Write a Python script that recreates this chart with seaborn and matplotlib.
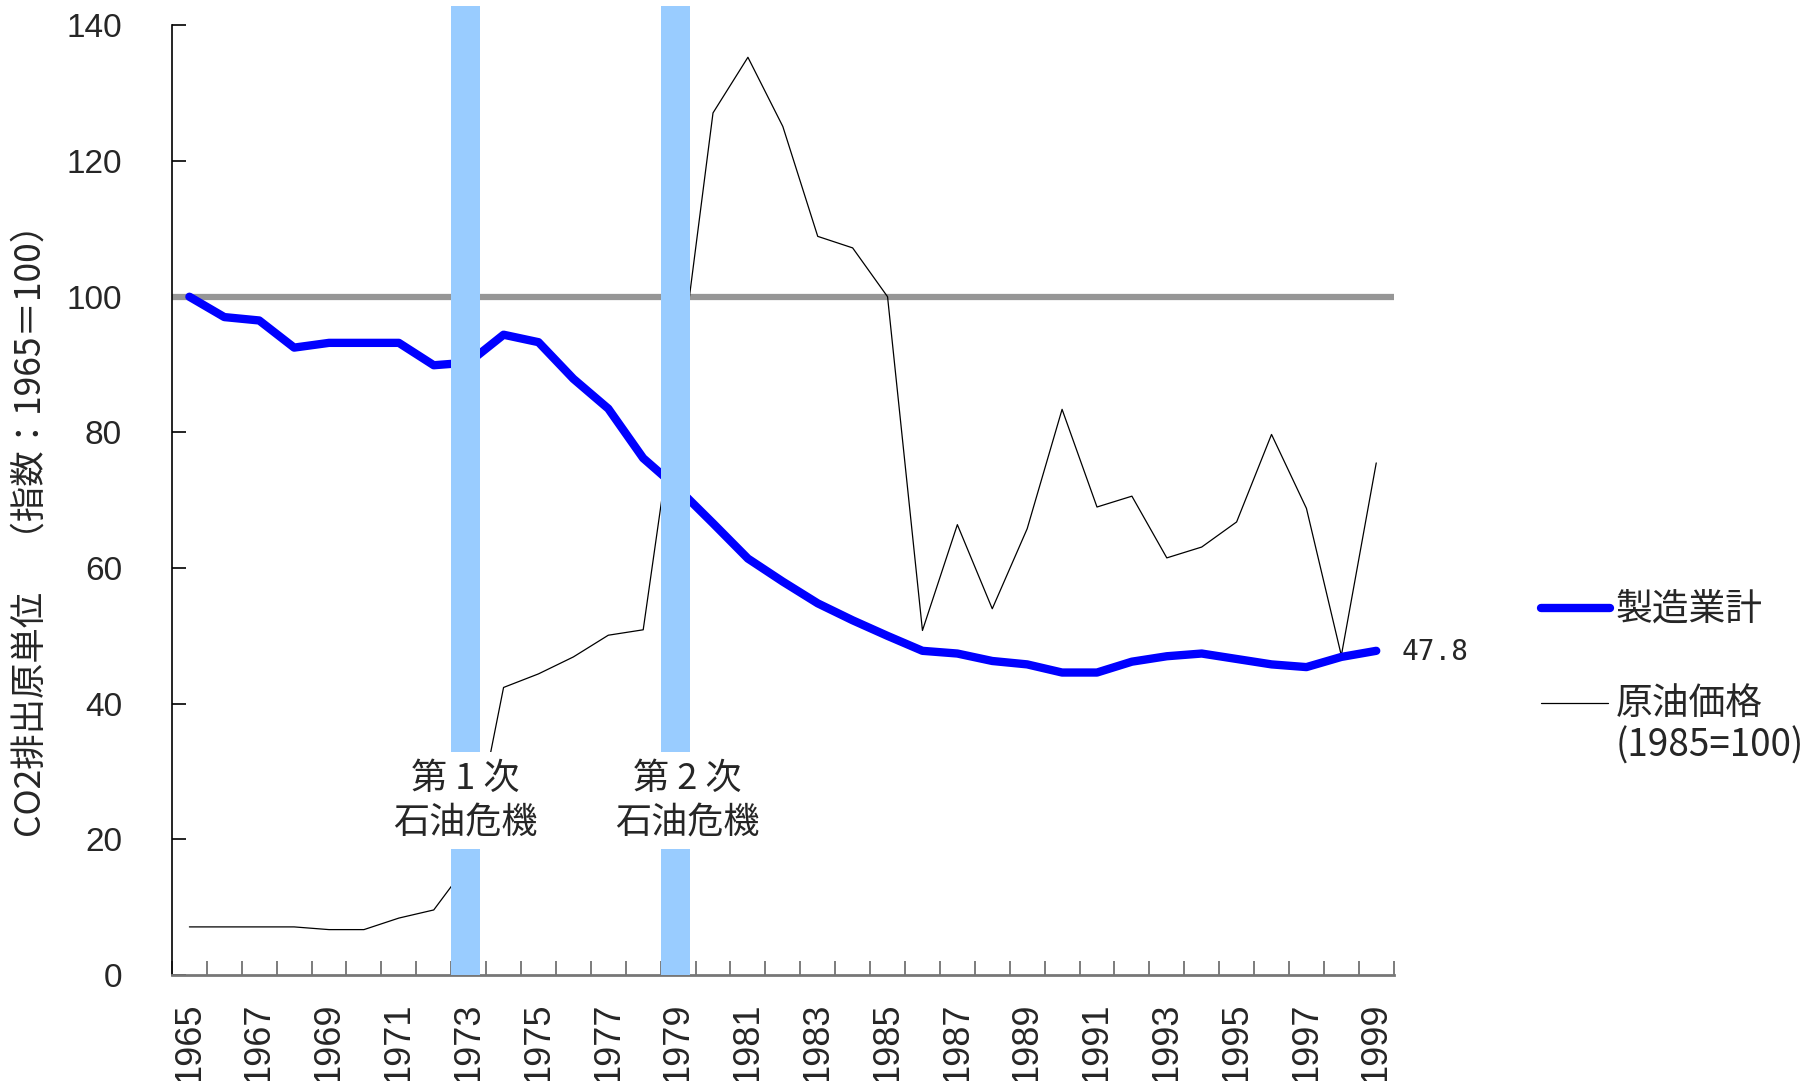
import numpy as np
import pandas as pd
import matplotlib.pyplot as plt
import seaborn as sns
from matplotlib.lines import Line2D
from matplotlib.ticker import FixedLocator

# data
years = list(range(1965, 2000))
co2_index = [100, 97.0, 96.5, 92.5, 93.2, 93.2, 93.2, 89.9, 90.3, 94.4,
             93.3, 87.9, 83.5, 76.2, 71.7, 66.6, 61.4, 58.0, 54.8, 52.3,
             50.0, 47.8, 47.4, 46.3, 45.8, 44.6, 44.6, 46.2, 47.0, 47.4,
             46.6, 45.8, 45.4, 46.9, 47.8]
oil_price = [7.1, 7.1, 7.1, 7.1, 6.7, 6.7, 8.4, 9.6, 16.5, 42.4,
             44.4, 46.9, 50.1, 50.9, 87.0, 127.1, 135.3, 125.1, 108.9, 107.2,
             100.0, 50.8, 66.4, 54.0, 65.8, 83.4, 69.0, 70.6, 61.5, 63.1,
             66.8, 79.7, 68.8, 47.1, 75.5]
crisis_start = [1972.5, 1978.5]
crisis_labels = ["第 1 次\n石油危機", "第 2 次\n石油危機"]
series_names = ["製造業計", "原油価格", "(1985=100)"]
ylabel = "CO2排出原単位　（指数：1965＝100）"

sns.set_theme(style="white")
plt.rcParams['font.family'] = ['Liberation Sans', 'Noto Sans CJK JP']
cjk = ['Noto Sans CJK JP', 'DejaVu Sans']

df = pd.DataFrame({'year': years, 'co2': co2_index, 'oil': oil_price})

fig = plt.figure(figsize=(18.1, 10.81), dpi=100)
ax = fig.add_axes([0.095, 0.098, 0.675, 0.8785])

# base line at 100
ax.axhline(100, color='#969696', lw=4.5, zorder=1)
sns.lineplot(data=df, x='year', y='oil', color='black', lw=0.9, ax=ax, zorder=2)
sns.lineplot(data=df, x='year', y='co2', color='#0000FF', lw=6, ax=ax, zorder=3)

# oil crisis bands
for start, label, dx in zip(crisis_start, crisis_labels, [0, 0.35]):
    ax.axvspan(start, start + 0.83, ymin=0, ymax=142.9 / 140, color='#99CCFF',
               lw=0, zorder=4, clip_on=False)
    ax.text(start + 0.415 + dx, 25.7, label, ha='center', va='center',
            fontsize=26, family=cjk, linespacing=1.25, zorder=5,
            bbox=dict(boxstyle='square,pad=0.25', fc='white', ec='none'))

ax.text(1999.73, 47.6, f"{co2_index[-1]:.1f}", family='DejaVu Sans Mono',
        fontsize=20, va='center', ha='left')

ax.set_xlim(1964.5, 1999.5)
ax.set_ylim(0, 140)
ax.set_xticks(years[::2])
ax.set_xticklabels([str(y) for y in years[::2]], rotation=90)
ax.xaxis.set_minor_locator(FixedLocator(np.arange(1964.5, 2000, 1)))
ax.tick_params(axis='x', which='major', length=0, pad=20, labelsize=26)
ax.tick_params(axis='x', which='minor', length=10, direction='in',
               color='#666666', width=1.2, bottom=True)
ax.set_yticks(range(0, 141, 20))
ax.tick_params(axis='y', length=10, direction='in', pad=36, labelsize=24,
               color='black', width=1.2, left=True)

ax.set_xlabel('')
ax.set_ylabel(ylabel, family=cjk, fontsize=25.5, va='center')
ax.yaxis.set_label_coords(-0.1154, 0.477)

for s in ['top', 'right']:
    ax.spines[s].set_visible(False)
ax.spines['left'].set_color('black')
ax.spines['left'].set_linewidth(1.2)
ax.spines['bottom'].set_color('#777777')
ax.spines['bottom'].set_linewidth(2)

# legend drawn by hand to the right of the plot
fig.add_artist(Line2D([0.8514, 0.8895], [0.4376, 0.4376], color='#0000FF', lw=6,
                      solid_capstyle='round', transform=fig.transFigure))
fig.text(0.8928, 1 - 609.5 / 1081, series_names[0], fontsize=26.5, family=cjk, va='center')
fig.add_artist(Line2D([0.8514, 0.8884], [0.3497, 0.3497], color='black', lw=0.9,
                      transform=fig.transFigure))
fig.text(0.8928, 1 - 703 / 1081, series_names[1], fontsize=26.5, family=cjk, va='center')
fig.text(0.8928, 1 - 746 / 1081, series_names[2], fontsize=26.5, family=cjk, va='center')

fig.savefig('out.png', dpi=100)
